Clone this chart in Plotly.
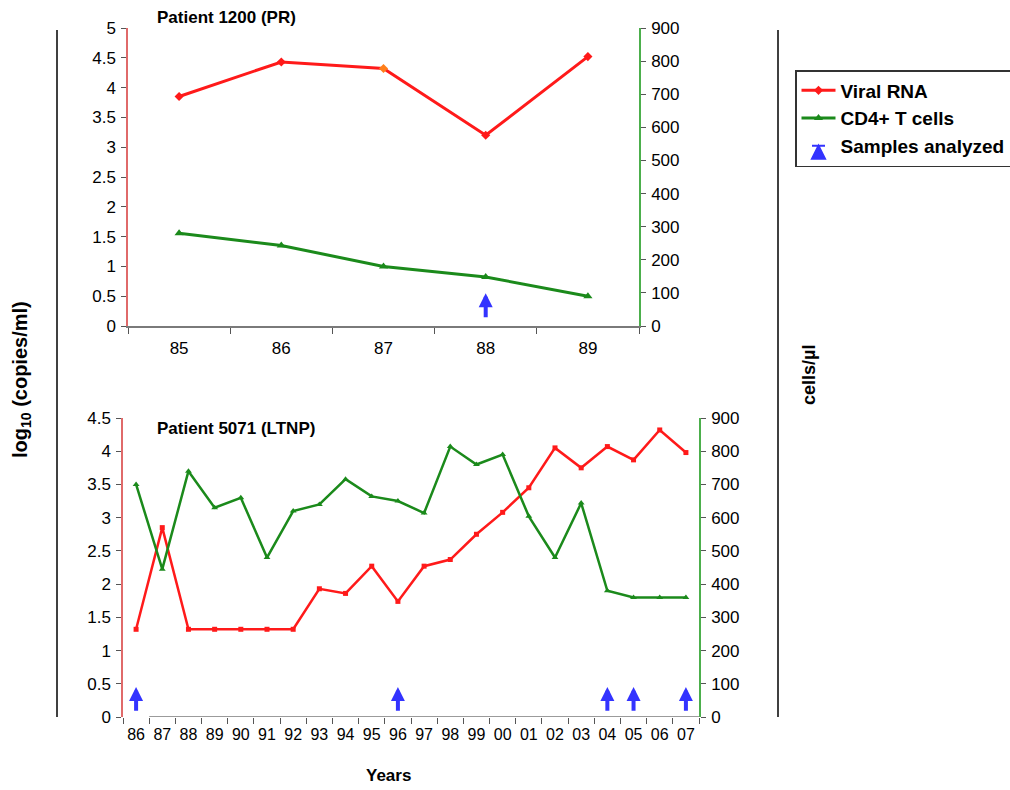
import plotly.graph_objects as go

W, H = 1010, 790

# ---------------- data ----------------
years_top = ["85", "86", "87", "88", "89"]
rna_top = [3.85, 4.43, 4.32, 3.20, 4.52]          # log10 copies/ml
cd4_top = [280, 243, 180, 148, 90]                # cells/ul
samples_top = ["88"]

years_bot = ["86", "87", "88", "89", "90", "91", "92", "93", "94", "95", "96",
             "97", "98", "99", "00", "01", "02", "03", "04", "05", "06", "07"]
rna_bot = [1.32, 2.85, 1.32, 1.32, 1.32, 1.32, 1.32, 1.93, 1.86, 2.27, 1.74,
           2.27, 2.37, 2.75, 3.08, 3.45, 4.05, 3.75, 4.07, 3.87, 4.32, 3.98]
cd4_bot = [700, 445, 740, 630, 660, 480, 620, 640, 716, 664, 650,
           614, 814, 760, 790, 604, 480, 644, 380, 360, 360, 360]
samples_bot = ["86", "96", "04", "05", "07"]

RED = "#ff1a1a"
GREEN = "#1b8a1b"
BLUE = "#3333ff"
FONT = "Liberation Sans, Arial, sans-serif"


def px(x):
    return x / W


def py(y):
    return 1 - y / H


fig = go.Figure()

# top patient
fig.add_trace(go.Scatter(x=years_top, y=rna_top, xaxis="x", yaxis="y", name="Viral RNA",
                         mode="lines+markers", line=dict(color=RED, width=3),
                         marker=dict(symbol="diamond", size=7,
                                     color=[RED, RED, "#ff7f1a", RED, RED]),
                         legendrank=1))
fig.add_trace(go.Scatter(x=years_top, y=cd4_top, xaxis="x", yaxis="y2", name="CD4+ T cells",
                         mode="lines+markers", line=dict(color=GREEN, width=3),
                         marker=dict(symbol="triangle-up", size=8, color=GREEN),
                         legendrank=2))
# bottom patient
fig.add_trace(go.Scatter(x=years_bot, y=rna_bot, xaxis="x2", yaxis="y3", showlegend=False,
                         mode="lines+markers", line=dict(color=RED, width=2.5),
                         marker=dict(symbol="square", size=5, color=RED)))
fig.add_trace(go.Scatter(x=years_bot, y=cd4_bot, xaxis="x2", yaxis="y4", showlegend=False,
                         mode="lines+markers", line=dict(color=GREEN, width=2.5),
                         marker=dict(symbol="triangle-up", size=6, color=GREEN)))
# legend entry for arrows
fig.add_trace(go.Scatter(x=[None], y=[None], xaxis="x", yaxis="y", name="Samples analyzed",
                         mode="markers", marker=dict(symbol="arrow-bar-up", size=13, color=BLUE,
                                                     line=dict(color=BLUE, width=2)),
                         legendrank=3))

# sample arrows (category index positions)
annotations = []
for yr in samples_top:
    annotations.append(dict(x=years_top.index(yr), y=0.55, xref="x", yref="y", ax=0, ay=0.12,
                            axref="pixel", ayref="y", text="", showarrow=True, arrowhead=2,
                            arrowsize=0.7, arrowwidth=4, arrowcolor=BLUE))
for yr in samples_bot:
    annotations.append(dict(x=years_bot.index(yr), y=0.45, xref="x2", yref="y3", ax=0, ay=0.07,
                            axref="pixel", ayref="y3", text="", showarrow=True, arrowhead=2,
                            arrowsize=0.7, arrowwidth=4, arrowcolor=BLUE))

bold = dict(family=FONT, size=17, color="black", weight="bold")
annotations += [
    dict(x=px(155), y=py(17), xref="paper", yref="paper", xanchor="left", yanchor="middle",
         text="Patient 1200 (PR)", showarrow=False, font=bold),
    dict(x=px(155), y=py(428), xref="paper", yref="paper", xanchor="left", yanchor="middle",
         text="Patient 5071 (LTNP)", showarrow=False, font=bold),
    dict(x=px(388), y=py(775), xref="paper", yref="paper", xanchor="center", yanchor="middle",
         text="Years", showarrow=False, font=bold),
    dict(x=px(21), y=py(380), xref="paper", yref="paper", xanchor="center", yanchor="middle",
         text="log<sub>10</sub> (copies/ml)", textangle=-90, showarrow=False,
         font=dict(bold, size=20)),
    dict(x=px(809), y=py(375), xref="paper", yref="paper", xanchor="center", yanchor="middle",
         text="cells/µl", textangle=-90, showarrow=False, font=dict(bold, size=18)),
]

shapes = [
    dict(type="line", xref="paper", yref="paper", x0=px(57), x1=px(57), y0=py(30), y1=py(717),
         line=dict(color="black", width=1.5)),
    dict(type="line", xref="paper", yref="paper", x0=px(778), x1=px(778), y0=py(30), y1=py(717),
         line=dict(color="black", width=1.5)),
    # bottom category axis baseline (starts at the first category boundary, as in the original)
    dict(type="line", xref="x2", yref="y3", x0=0.5, x1=len(years_bot) - 0.5, y0=0, y1=0,
         line=dict(color="#7a7a7a", width=1.5), layer="above"),
]

tickfont = dict(family=FONT, size=17, color="black")
common_x = dict(type="category", linecolor="#7a7a7a", linewidth=1.5,
                ticks="outside", tickson="boundaries", ticklen=6, tickcolor="#555555",
                tickwidth=1.2, showgrid=False, zeroline=False, automargin=False,
                ticklabelstandoff=6, tickangle=0, fixedrange=True)
common_y = dict(showline=True, linewidth=1.5, ticks="outside", ticklen=5, tickcolor="#555555",
                tickwidth=1.2, showgrid=False, zeroline=False, tickfont=tickfont,
                automargin=False, ticklabelstandoff=2)

fig.update_layout(
    width=W, height=H, autosize=False, margin=dict(l=0, r=0, t=0, b=0, autoexpand=False),
    paper_bgcolor="white", plot_bgcolor="white",
    font=dict(family=FONT, color="black"),
    xaxis=dict(domain=[px(128), px(639)], anchor="y", range=[-0.5, 4.5], tickfont=tickfont,
               showline=True, **common_x),
    yaxis=dict(domain=[py(326), py(28)], anchor="x", range=[0, 5], dtick=0.5,
               linecolor="#e06a6a", **common_y),
    yaxis2=dict(overlaying="y", side="right", anchor="x", range=[0, 900], dtick=100,
                linecolor="#4caf4c", **common_y),
    xaxis2=dict(domain=[px(123), px(699)], anchor="y3", range=[-0.5, 21.5],
                tickfont=dict(tickfont, size=16), showline=False, **common_x),
    yaxis3=dict(domain=[py(717), py(418)], anchor="x2", range=[0, 4.5], dtick=0.5,
                linecolor="#e06a6a", **common_y),
    yaxis4=dict(overlaying="y3", side="right", anchor="x2", range=[0, 900], dtick=100,
                linecolor="#4caf4c", **common_y),
    legend=dict(x=px(795), y=py(70), xanchor="left", yanchor="top", bgcolor="white",
                bordercolor="#333333", borderwidth=1.5,
                font=dict(family=FONT, size=19, color="black", weight="bold"),
                tracegroupgap=4, itemwidth=34),
    showlegend=True,
    annotations=annotations,
    shapes=shapes,
)

fig.write_html("out.html")
